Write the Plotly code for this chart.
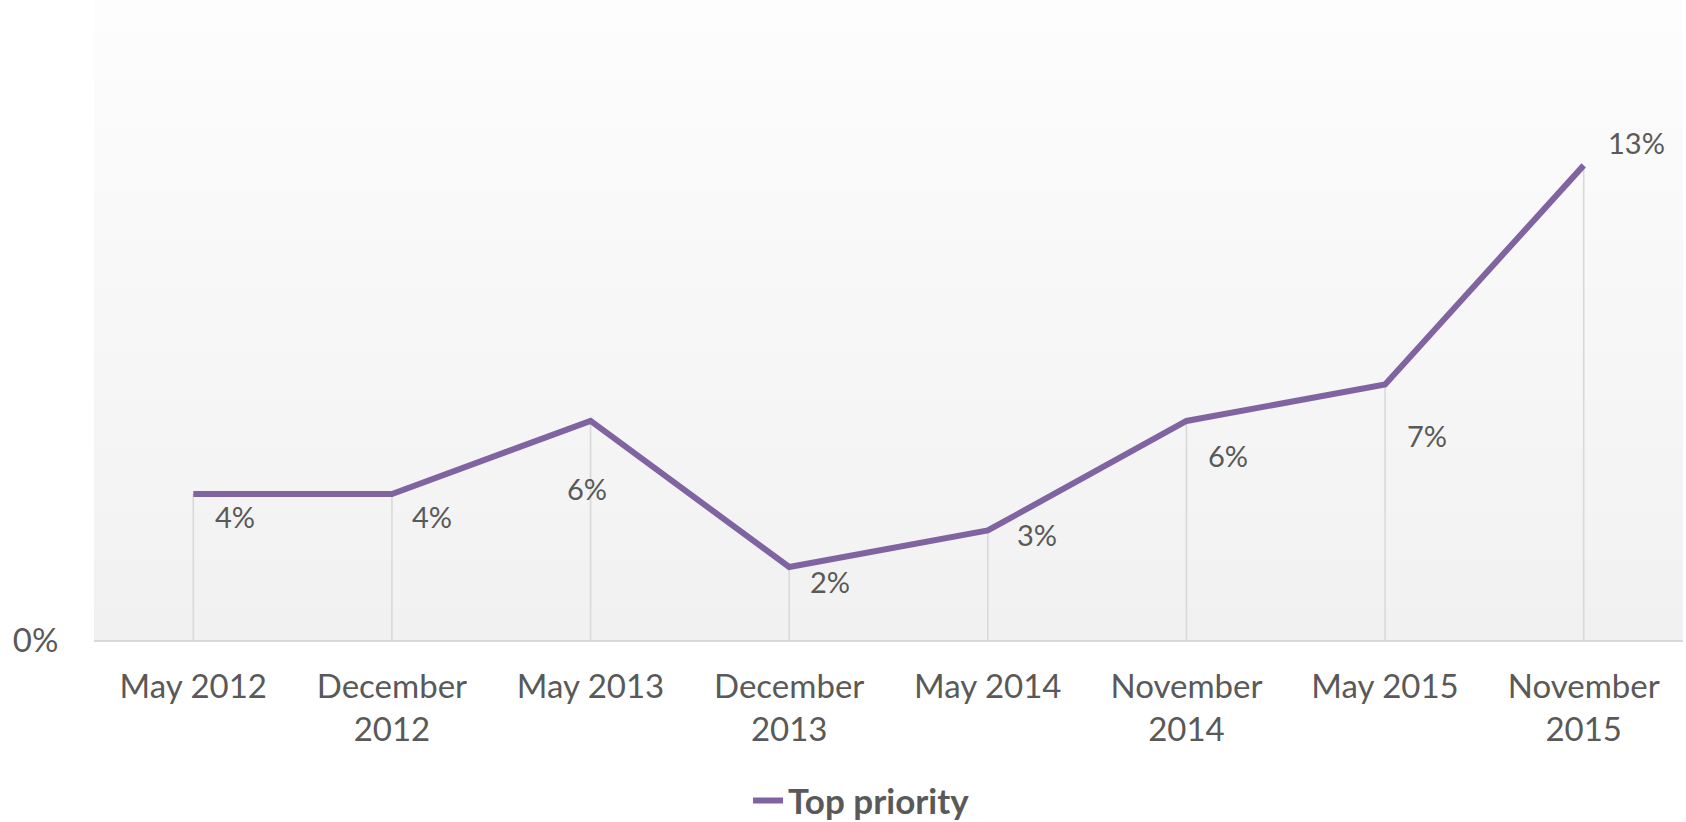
import plotly.graph_objects as go

# survey waves and share of respondents naming it top priority
waves = ["May 2012", "December 2012", "May 2013", "December 2013",
         "May 2014", "November 2014", "May 2015", "November 2015"]
tick_text = ["May 2012", "December<br>2012", "May 2013", "December<br>2013",
             "May 2014", "November<br>2014", "May 2015", "November<br>2015"]
top_priority = [0.04, 0.04, 0.06, 0.02, 0.03, 0.06, 0.07, 0.13]
value_labels = ["4%", "4%", "6%", "2%", "3%", "6%", "7%", "13%"]

# hand-placed label offsets (px) like the original Excel chart
label_dx = [42, 40, -4, 41, 49, 42, 42, 53]
label_dy = [-23, -23, -68, -15, -4, -35, -51, 23]

FONT = "Lato"
GREY_TXT = "#595959"
PURPLE = "#8064A2"
FS = 33

fig = go.Figure()

# drop lines from each point down to the axis
fig.add_trace(go.Scatter(
    x=waves, y=top_priority, mode="markers",
    marker=dict(size=1, opacity=0),
    error_y=dict(type="data", symmetric=False, array=[0] * len(top_priority),
                 arrayminus=top_priority, width=0, color="#d9d9d9", thickness=1.6),
    showlegend=False, hoverinfo="skip"))

fig.add_trace(go.Scatter(
    x=waves, y=top_priority, mode="lines", name="<b>Top priority</b>",
    line=dict(color=PURPLE, width=6)))

for w, v, t, dx, dy in zip(waves, top_priority, value_labels, label_dx, label_dy):
    fig.add_annotation(x=w, y=v, text=t, showarrow=False, xshift=dx, yshift=dy,
                       font=dict(family=FONT, size=29, color=GREY_TXT))

# soft vertical gradient behind the plot area
n_bands = 40
top_c, bot_c = 253, 241
shapes = []
for i in range(n_bands):
    g = round(bot_c + (top_c - bot_c) * (i + 0.5) / n_bands)
    shapes.append(dict(type="rect", xref="paper", yref="paper",
                       x0=0, x1=1, y0=i / n_bands, y1=(i + 1) / n_bands,
                       fillcolor=f"rgb({g},{g},{g})", line=dict(width=0), layer="below"))

fig.update_layout(
    width=1686, height=822,
    margin=dict(l=94, r=3, t=0, b=182, autoexpand=False),
    paper_bgcolor="white", plot_bgcolor="white",
    font=dict(family=FONT, color=GREY_TXT, size=FS),
    shapes=shapes,
    xaxis=dict(type="category", tickvals=waves, ticktext=tick_text,
               range=[-0.5, len(waves) - 0.5],
               showgrid=False, showline=True, linecolor="#d9d9d9", linewidth=2,
               ticks="outside", ticklen=16, tickcolor="rgba(0,0,0,0)",
               tickfont=dict(size=FS), zeroline=False, automargin=False),
    yaxis=dict(range=[0, 0.1753], tickvals=[0], ticktext=["0%"],
               showgrid=False, zeroline=False, ticks="outside", ticklen=28,
               tickcolor="rgba(0,0,0,0)", tickfont=dict(size=FS), automargin=False),
    legend=dict(orientation="h", xref="container", yref="container",
                x=0.511, xanchor="center", y=0.026, yanchor="middle",
                font=dict(size=35, color=GREY_TXT), bgcolor="rgba(0,0,0,0)"),
    showlegend=True,
)

# drop the default page margin so the figure fills the window exactly
fig.write_html("out.html", config={"displayModeBar": False},
               post_script="document.body.style.margin='0px';")
